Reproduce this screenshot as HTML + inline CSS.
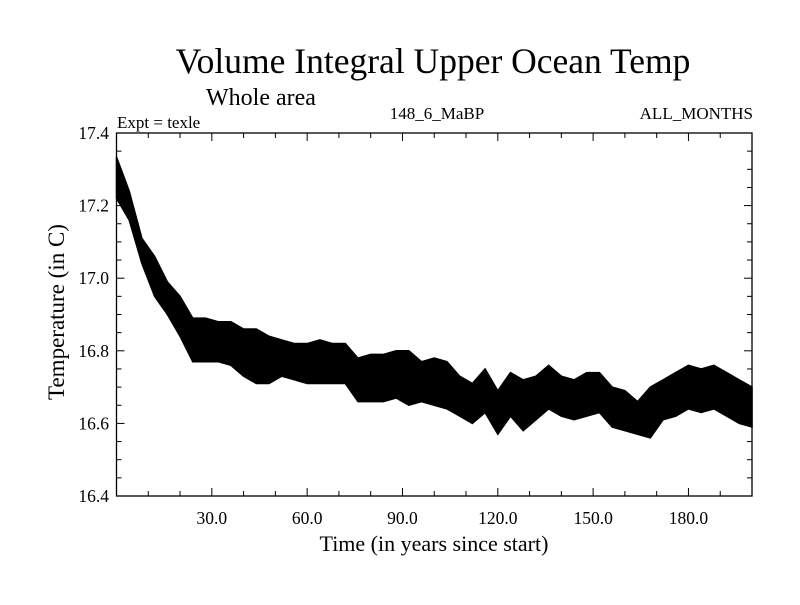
<!DOCTYPE html>
<html><head><meta charset="utf-8"><style>
body{margin:0;background:#fff}
svg text{font-family:"Liberation Serif",serif;fill:#000}
</style></head><body>
<svg width="800" height="600">
<text x="433" y="73" font-size="35.5" text-anchor="middle">Volume Integral Upper Ocean Temp</text>
<text x="261" y="105" font-size="24" text-anchor="middle">Whole area</text>
<text x="117" y="128" font-size="17">Expt = texle</text>
<text x="437" y="119" font-size="17" text-anchor="middle">148_6_MaBP</text>
<text x="753" y="119" font-size="17" text-anchor="end">ALL_MONTHS</text>
<text x="434" y="551" font-size="22" text-anchor="middle">Time (in years since start)</text>
<text transform="translate(64,312) rotate(-90)" font-size="23" text-anchor="middle">Temperature (in C)</text>
<g id="plot"></g>
</svg>
<script>
const years=[0,4,8,12,16,20,24,28,32,36,40,44,48,52,56,60,64,68,72,76,80,84,88,92,96,100,104,108,112,116,120,124,128,132,136,140,144,148,152,156,160,164,168,172,176,180,184,188,192,196,200];
const upper=[17.334,17.24,17.11,17.06,16.99,16.95,16.89,16.89,16.88,16.88,16.86,16.86,16.84,16.83,16.82,16.82,16.83,16.82,16.82,16.78,16.79,16.79,16.80,16.80,16.77,16.78,16.77,16.73,16.71,16.75,16.69,16.74,16.72,16.73,16.76,16.73,16.72,16.74,16.74,16.70,16.69,16.66,16.70,16.72,16.74,16.76,16.75,16.76,16.74,16.72,16.70];
const lower=[17.22,17.16,17.04,16.95,16.90,16.84,16.77,16.77,16.77,16.76,16.73,16.71,16.71,16.73,16.72,16.71,16.71,16.71,16.71,16.66,16.66,16.66,16.67,16.65,16.66,16.65,16.64,16.62,16.60,16.63,16.57,16.62,16.58,16.61,16.64,16.62,16.61,16.62,16.63,16.59,16.58,16.57,16.56,16.61,16.62,16.64,16.63,16.64,16.62,16.60,16.59];
const yTicks=[16.4,16.6,16.8,17.0,17.2,17.4];
const xTicks=[30,60,90,120,150,180];
const L=116.5,R=752,T=133,B=496,X0=0,X1=200,Y0=16.4,Y1=17.4;
const sx=v=>L+(v-X0)/(X1-X0)*(R-L), sy=v=>B-(v-Y0)/(Y1-Y0)*(B-T);
const NS='http://www.w3.org/2000/svg', g=document.getElementById('plot');
function mk(t,a){const e=document.createElementNS(NS,t);for(const k in a)e.setAttribute(k,a[k]);g.appendChild(e);return e;}
let pts=years.map((y,i)=>sx(y)+','+sy(upper[i]));
for(let i=years.length-1;i>=0;i--)pts.push(sx(years[i])+','+sy(lower[i]));
const band=mk('polygon',{points:pts.join(' '),fill:'#000',stroke:'#000','stroke-width':1.5});


const fr=mk('rect',{x:L,y:T,width:R-L,height:B-T,fill:'none',stroke:'#000','stroke-width':1.3});


for(let v=10;v<200;v+=10){const x=sx(v),big=v%30===0?8:5;
mk('line',{x1:x,x2:x,y1:B,y2:B-big,stroke:'#000'});mk('line',{x1:x,x2:x,y1:T,y2:T+big,stroke:'#000'});}
for(let k=1;k<20;k++){const v=Y0+k*0.05,y=sy(v),big=k%4===0?8:5;
mk('line',{x1:L,x2:L+big,y1:y,y2:y,stroke:'#000'});mk('line',{x1:R,x2:R-big,y1:y,y2:y,stroke:'#000'});}
xTicks.forEach(v=>{const t=mk('text',{x:sx(v),y:524,'font-size':17.5,'text-anchor':'middle'});t.textContent=v.toFixed(1);

});
yTicks.forEach(v=>{const t=mk('text',{x:109,y:sy(v)+6,'font-size':17.5,'text-anchor':'end'});t.textContent=v.toFixed(1);

});
</script>
</body></html>
